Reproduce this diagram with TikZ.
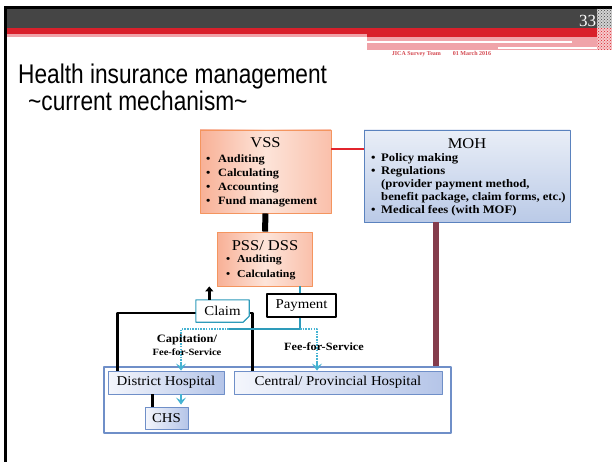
\documentclass[tikz,border=0pt]{standalone}
\usepackage{fontspec}
\setmainfont{Liberation Serif}
\newfontfamily\chartfont[FakeStretch=1.1]{Liberation Serif}
\newfontfamily\headfont[FakeStretch=0.84]{Liberation Sans}
\usetikzlibrary{arrows.meta,patterns}

\definecolor{bargray}{HTML}{454545}
\definecolor{barred}{HTML}{D9202B}
\definecolor{barpink}{HTML}{F0A3A9}
\definecolor{vssedge}{HTML}{F4955F}
\definecolor{vsslight}{HTML}{FDE4D9}
\definecolor{vssdark}{HTML}{F8B096}
\definecolor{mohedge}{HTML}{5A82BE}
\definecolor{mohlight}{HTML}{E9EEF7}
\definecolor{mohdark}{HTML}{BACAE7}
\definecolor{hospedge}{HTML}{6F8FC8}
\definecolor{hosplight}{HTML}{F4F6FC}
\definecolor{hospdark}{HTML}{B5C5E8}
\definecolor{payteal}{HTML}{2E9BBA}
\definecolor{flowteal}{HTML}{45B3D2}
\definecolor{mofline}{HTML}{843C4C}
\definecolor{linkred}{HTML}{E2242C}
\definecolor{datered}{HTML}{D4474F}

% bullet list: \blist{gap}{rows}
\newcommand{\blist}[2]{\begin{tabular}{@{}l@{\hspace{#1}}l@{}}#2\end{tabular}}

\begin{document}
\begin{tikzpicture}[x=1pt,y=-1pt,line join=round,
    every node/.style={inner sep=0pt},
    vssbox/.style={draw=vssedge,line width=0.9pt,left color=vssdark,right color=vssdark!80,middle color=vsslight},
    mohbox/.style={draw=mohedge,line width=0.9pt,shading angle=135,top color=mohlight,bottom color=mohdark},
    hospbox/.style={draw=hospedge,line width=0.8pt,left color=hosplight,right color=hospdark},
    tagbox/.style={fill=white,minimum width=#1,minimum height=22pt,font=\chartfont\fontsize{13.5}{15}\selectfont},
    payflow/.style={draw=payteal,line width=1.8pt},
    payhint/.style={draw=flowteal,line width=1.7pt,dash pattern=on 1.6pt off 1.1pt},
    paytip/.style={draw=flowteal,line width=1.7pt,-{Stealth[length=7pt,width=10pt,inset=3pt]}}]
  \useasboundingbox (0,0) rectangle (612,462);
  \fill[white] (0,0) rectangle (612,462);

  % slide frame and header bars
  \fill[black] (4,6) rectangle (612,9);
  \fill[black] (4,6) rectangle (7,462);
  \fill[bargray] (7,9) rectangle (597,28);
  \fill[barred] (7,28) rectangle (597,34);
  \fill[barred] (367,34) rectangle (597,37);
  \fill[barpink] (7,34) rectangle (367,37);
  \fill[barpink] (367,37) rectangle (597,50);
  \fill[white] (367,41) rectangle (572,43);
  \fill[white] (498,47.5) rectangle (612,48.7);
  \fill[gray!35] (597,9) rectangle (612,28);
  \fill[pattern=crosshatch dots,pattern color=bargray] (597,9) rectangle (612,28);
  \fill[barpink!60] (597,28) rectangle (612,50);
  \fill[pattern=crosshatch dots,pattern color=barred] (597,28) rectangle (612,50);
  \node[text=white,font=\fontsize{17}{19}\selectfont] (pageno) at (587.5,20.5) {33};
  \node[text=datered,font=\bfseries\fontsize{6}{7}\selectfont] (footer) at (441.5,54.5)
    {JICA Survey Team\hspace{12pt}01 March 2016};

  % title
  \node[anchor=base west,font=\headfont\fontsize{27}{30}\selectfont] (title) at (18,84)
    {Health insurance management};
  \node[anchor=base west,font=\headfont\fontsize{27}{30}\selectfont] (subtitle) at (28,111)
    {\char`~current mechanism\char`~};

  % insurance agencies
  \node[vssbox,minimum width=131pt,minimum height=83pt] (vss) at (265.5,171.5) {};
  \node[anchor=base,font=\chartfont\fontsize{15}{17}\selectfont] (vsshead) at (265.5,148) {VSS};
  \node[anchor=north west,font=\chartfont\bfseries\fontsize{11.2}{14}\selectfont] (vsslist) at (206,152.7)
    {\blist{7.7pt}{\textbullet & Auditing\\ \textbullet & Calculating\\ \textbullet & Accounting\\ \textbullet & Fund management}};

  \node[mohbox,minimum width=206pt,minimum height=92pt] (moh) at (467,176) {};
  \node[anchor=base,font=\chartfont\fontsize{15}{17}\selectfont] (mohhead) at (467,149) {MOH};
  \node[anchor=north west,font=\chartfont\bfseries\fontsize{11.5}{13}\selectfont] (mohlist) at (371,152.5)
    {\blist{5.6pt}{\textbullet & Policy making\\ \textbullet & Regulations\\ & (provider payment method,\\
      & benefit package, claim forms, etc.)\\ \textbullet & Medical fees (with MOF)}};

  \node[vssbox,minimum width=95pt,minimum height=54pt] (pss) at (265,259) {};
  \node[anchor=base,font=\chartfont\fontsize{15}{17}\selectfont] (psshead) at (265,250) {PSS/ DSS};
  \node[anchor=north west,font=\chartfont\bfseries\fontsize{10.7}{15}\selectfont] (psslist) at (226,251.9)
    {\blist{6.9pt}{\textbullet & Auditing\\ \textbullet & Calculating}};

  % links between agencies
  \draw[linkred,line width=1.4pt] ([yshift=22.5pt]vss.east) -- ([yshift=22.5pt]vss.east -| moh.west);
  \draw[black,line width=6pt] (vss.south) -- (pss.north);

  % hospitals
  \node[draw=hospedge,line width=1.1pt,fill=white,minimum width=347pt,minimum height=66pt] (hosp) at (277.5,400) {};
  \node[hospbox,minimum width=116pt,minimum height=23pt,font=\chartfont\fontsize{13.5}{15}\selectfont] (dh) at (166,382.5) {District Hospital};
  \node[hospbox,minimum width=208pt,minimum height=23pt,font=\chartfont\fontsize{13.5}{15}\selectfont] (cph) at (338,382.5) {Central/ Provincial Hospital};
  \node[hospbox,minimum width=43pt,minimum height=22pt,font=\chartfont\fontsize{13.5}{15}\selectfont] (chs) at (166.5,418) {CHS};

  \draw[mofline,line width=5.5pt] ([xshift=-31pt]moh.south) -- ([xshift=-31pt]moh.south |- hosp.north);
  \draw[black,line width=3pt] ([xshift=-14.5pt]chs.north) -- ([xshift=-14.5pt]chs.north |- dh.south);

  % claim route (hospitals up to PSS/DSS)
  \coordinate (claimrail) at (185,313);
  \draw[black,line width=2.4pt] ([xshift=10pt]dh.north west) |- (claimrail) -| ([xshift=19pt]cph.north west);
  \node[tagbox=53pt] (claim) at (222.5,311) {Claim};
  \draw[payteal,line width=1.1pt] (claim.north west) -- (claim.north east) -- ([yshift=6pt]claim.south east)
    -- ([xshift=-6pt]claim.south east) -- (claim.south west) -- cycle;
  \fill[flowteal!55,draw=payteal,line width=0.6pt] ([yshift=6pt]claim.south east) -- ([xshift=-6pt]claim.south east)
    -- ([xshift=-4.5pt,yshift=2pt]claim.south east) -- cycle;
  \draw[black,line width=2.4pt,-{Triangle[length=5pt,width=8pt]}] ([xshift=13.5pt]claim.north west) -- ([xshift=13.5pt]claim.north west |- pss.south);

  % payment route (PSS/DSS down to hospitals)
  \node[tagbox=69pt,draw=black,line width=1.1pt,minimum height=23pt] (pay) at (301.5,305.5) {Payment};
  \coordinate (fork) at (300,329);
  \coordinate (forkl) at (229,329);
  \coordinate (capx) at (181,329);
  \coordinate (ffsx) at (317,329);
  \draw[payflow] (fork |- pss.south) -- (fork |- pay.north);
  \draw[payflow] (fork |- pay.south) -- (fork) -- (forkl);
  \draw[payhint] (forkl) -- (capx) -- ([yshift=9pt]capx |- dh.north);
  \draw[payhint] (fork) -- (ffsx) -- ([yshift=9pt]ffsx |- cph.north);
  \draw[paytip] ([yshift=9pt]capx |- dh.north) -- (capx |- dh.north);
  \draw[paytip] ([yshift=9pt]ffsx |- cph.north) -- (ffsx |- cph.north);
  \draw[paytip] (capx |- dh.south) -- ([yshift=2pt]capx |- chs.north);

  \node[align=center,font=\chartfont\bfseries\fontsize{11.3}{14}\selectfont] (capl) at (187,345)
    {Capitation/\\[-1pt]{\fontsize{9.6}{11}\selectfont Fee-for-Service}};
  \node[font=\chartfont\bfseries\fontsize{11.1}{13}\selectfont] (ffsl) at (324,347) {Fee-for-Service};
\end{tikzpicture}
\end{document}
